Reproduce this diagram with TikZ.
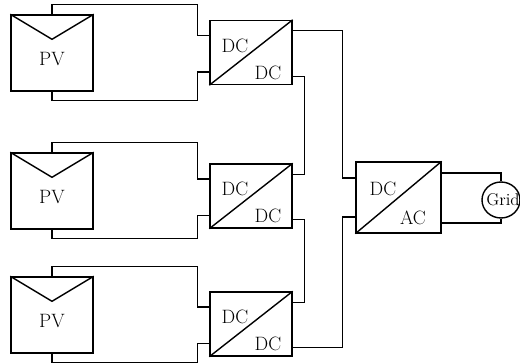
\documentclass[tikz,border=0pt]{standalone}
\usepackage{fontspec}
\usepackage{tikz}
\usetikzlibrary{calc,shapes.geometric}
\tikzset{
	pvpanel/.style={draw, minimum width=2.46cm, minimum height=2.28cm, inner sep=0pt},
	converter/.style={draw, minimum width=2.46cm, minimum height=1.92cm, inner sep=0pt},
	inverter/.style={draw, minimum width=2.55cm, minimum height=2.13cm, inner sep=0pt},
	gridnode/.style={draw, ellipse, minimum width=1.14cm, minimum height=1.08cm, inner sep=0pt},
	lbl/.style={font=\fontsize{16.5}{18}\selectfont, inner sep=0pt},
	gridlbl/.style={font=\fontsize{14.5}{16}\selectfont, inner sep=0pt}
}

\begin{document}
\begin{tikzpicture}[x=0.03cm, y=-0.03cm, line width=1.2pt, line join=miter]
	\useasboundingbox (0,0) rectangle (520,363);

	% panels and dc/dc stages
	\foreach \i/\py/\dy in {1/53/52.5, 2/191/196, 3/315/324} {
		\node[pvpanel] (pv\i) at (52,\py) {};
		\draw (pv\i.north west) -- ($(pv\i.north)+(0,25)$) -- (pv\i.north east);
		\node[lbl] (pvt\i) at ($(pv\i.center)+(0,6)$) {PV};

		\node[converter] (dc\i) at (251,\dy) {};
		\draw (dc\i.south west) -- (dc\i.north east);
		\node[lbl] (dcin\i) at ($(dc\i.center)+(-16,-7)$) {DC};
		\node[lbl] (dcout\i) at ($(dc\i.center)+(17,20)$) {DC};

		\draw (pv\i.north) -- ++(0,-10) -| ($(dc\i.west)+(-12,-17)$) -- ++(12,0);
		\draw (pv\i.south) -- ++(0,8.5) -| ($(dc\i.west)+(-12,19.5)$) -- ++(12,0);

		\coordinate (o\i a) at ($(dc\i.north east)+(0,11)$);
		\coordinate (o\i b) at ($(dc\i.south east)+(0,-9)$);
	}

	% dc/ac stage and grid
	\node[inverter] (dcac) at (398.5,197.5) {};
	\draw (dcac.south west) -- (dcac.north east);
	\node[lbl] (acin) at ($(dcac.center)+(-15.5,-8.5)$) {DC};
	\node[lbl] (acout) at ($(dcac.center)+(14.5,20.5)$) {AC};
	\node[gridnode] (grid) at (501,200) {};
	\node[gridlbl] (gridt) at ($(grid.center)+(2,0)$) {Grid};

	% series string
	\draw (o1b) -| ($(o2a)+(12,0)$) -- (o2a);
	\draw (o2b) -| ($(o3a)+(12,0)$) -- (o3a);
	\draw (o1a) -| ($(dcac.west)+(-13,-19.5)$) -- ++(13,0);
	\draw (o3b) -| ($(dcac.west)+(-13,19.5)$) -- ++(13,0);

	\draw ($(dcac.east)+(0,-24.5)$) -| (grid.north);
	\draw ($(dcac.east)+(0,25.5)$) -| (grid.south);
\end{tikzpicture}
\end{document}
